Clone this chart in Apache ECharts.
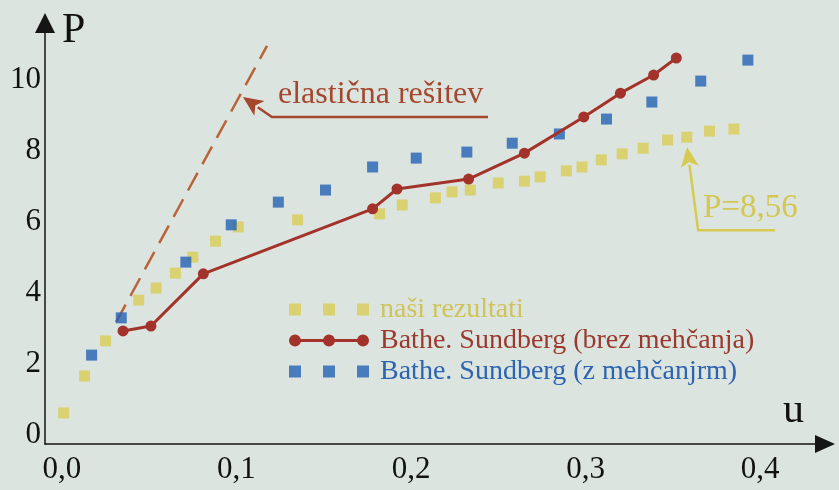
<!DOCTYPE html>
<html><head><meta charset="utf-8">
<script src="https://cdn.jsdelivr.net/npm/echarts@6/dist/echarts.min.js"></script>
<style>html,body{margin:0;padding:0;background:#dce4e0}#c{width:839px;height:490px}</style>
</head><body><div id="c"></div>
<script>
// ---- data ----
const uOurs = [0.001,0.013,0.025,0.044,0.054,0.065,0.075,0.088,0.101,0.135,0.182,0.195,0.214,0.2235,0.234,0.250,0.265,0.274,0.289,0.298,0.309,0.321,0.333,0.347,0.358,0.371,0.385];
const pOurs = [0.62,1.66,2.65,3.80,4.14,4.56,5.01,5.46,5.86,6.06,6.23,6.48,6.68,6.85,6.90,7.10,7.15,7.27,7.44,7.55,7.75,7.92,8.08,8.31,8.39,8.56,8.62];
const uBrez = [0.035,0.051,0.081,0.178,0.192,0.233,0.265,0.299,0.320,0.339,0.352];
const pBrez = [2.93,3.07,4.54,6.37,6.93,7.21,7.94,8.96,9.63,10.14,10.62];
const uZ = [0.017,0.034,0.071,0.097,0.124,0.151,0.178,0.203,0.232,0.258,0.285,0.312,0.338,0.366,0.393];
const pZ = [2.25,3.30,4.87,5.92,6.56,6.90,7.55,7.80,7.97,8.22,8.48,8.90,9.38,9.97,10.56];
const uElastic = [0.031,0.1175];
const pElastic = [3.18,10.96];
const xTicks = [0,0.1,0.2,0.3,0.4];
const yTicks = [0,2,4,6,8,10];
const names = ['naši rezultati','Bathe. Sundberg (brez mehčanja)','Bathe. Sundberg (z mehčanjrm)'];
const elasticLabel = 'elastična rešitev';
const limitLabel = 'P=8,56';
// annotation anchor points in data coords [u, P]
const elasticArrow = [[0.2441,8.96],[0.1203,8.96],[0.1037,9.52]];
const elasticTextAt = [0.1238,9.15];
const limitArrow = [[0.4086,5.77],[0.3645,5.77],[0.3582,8.11]];
const limitTextAt = [0.3673,5.92];

const FONT = 'Liberation Serif';
const cYellow = '#d9cc55', cRed = '#a3332a', cBlue = '#2461b4', cDash = '#b86438';
const zip = (a,b)=>a.map((v,i)=>[v,b[i]]);
const chart = echarts.init(document.getElementById('c'), null, {renderer:'canvas'});
const sq = 'path://M0,0H12V12H0Z M34,0H46V12H34Z M68,0H80V12H68Z';
const dots = 'path://M0,6A6,6 0 1,1 12,6A6,6 0 1,1 0,6Z M34,6A6,6 0 1,1 46,6A6,6 0 1,1 34,6Z M68,6A6,6 0 1,1 80,6A6,6 0 1,1 68,6Z M11,4.5H35V7.5H11Z M45,4.5H69V7.5H45Z';
chart.setOption({
  backgroundColor:'#dce4e0',
  animation:false,
  grid:{left:45,right:14,top:23,bottom:46},
  xAxis:{type:'value',min:-0.0097,max:0.4372,
    axisLine:{onZero:false,lineStyle:{color:'#151515',width:1.5},symbol:['none','triangle'],symbolSize:[18,20]},
    axisTick:{show:false},splitLine:{show:false},
    axisLabel:{customValues:xTicks,formatter:v=>v.toFixed(1).replace('.',','),fontFamily:FONT,fontSize:31,color:'#111',margin:10}},
  yAxis:{type:'value',min:-0.254,max:11.606,
    axisLine:{onZero:false,lineStyle:{color:'#151515',width:1.5},symbol:['none','triangle'],symbolSize:[20,20]},
    axisTick:{show:false},splitLine:{show:false},
    axisLabel:{customValues:yTicks,fontFamily:FONT,fontSize:31,color:'#111',margin:4}},
  legend:{orient:'vertical',left:289,top:295,padding:0,itemWidth:80,itemHeight:12,itemGap:2,
    textStyle:{fontFamily:FONT,fontSize:28,lineHeight:29,padding:[0,0,0,6]},
    data:[{name:names[0],icon:sq,textStyle:{color:'#cfc35a'}},
          {name:names[1],icon:dots,textStyle:{color:'#9a3a2e'}},
          {name:names[2],icon:sq,textStyle:{color:'#2c64b0'}}]},
  series:[
    {name:'elastic',type:'line',data:zip(uElastic,pElastic),showSymbol:false,z:1,
      lineStyle:{color:cDash,width:2.5,type:[20,10]}},
    {name:names[0],type:'scatter',data:zip(uOurs,pOurs),symbol:'rect',symbolSize:11,itemStyle:{color:cYellow},z:2},
    {name:names[2],type:'scatter',data:zip(uZ,pZ),symbol:'rect',symbolSize:11,itemStyle:{color:cBlue},z:2},
    {name:names[1],type:'line',data:zip(uBrez,pBrez),symbol:'circle',symbolSize:11,z:3,
      itemStyle:{color:cRed},lineStyle:{color:cRed,width:3}}
  ]
});

function px(p){return chart.convertToPixel({gridIndex:0},p);}
function arrowItems(pts,color,lw){
  const P = pts.map(px);
  const tip = P[P.length-1], prev = P[P.length-2];
  const dx = tip[0]-prev[0], dy = tip[1]-prev[1], L = Math.hypot(dx,dy);
  const ux = dx/L, uy = dy/L, len = 20, hw = 9;
  const bx = tip[0]-ux*len, by = tip[1]-uy*len;
  const line = P.slice(0,-1).concat([[bx+ux*2,by+uy*2]]);
  return [
    {type:'polyline',shape:{points:line},style:{stroke:color,lineWidth:lw,fill:null},z:10},
    {type:'polygon',shape:{points:[tip,[bx-uy*hw,by+ux*hw],[bx+ux*5,by+uy*5],[bx+uy*hw,by-ux*hw]]},style:{fill:color},z:10}
  ];
}
const et = px(elasticTextAt), lt = px(limitTextAt);
chart.setOption({graphic:[
  {type:'text',left:62,top:10,style:{text:'P',font:'42px "Liberation Serif"',fill:'#111'}},
  {type:'text',left:783,top:390,style:{text:'u',font:'42px "Liberation Serif"',fill:'#111'}},
  ...arrowItems(elasticArrow,'#a4472c',2.5),
  {type:'text',x:et[0],y:et[1],style:{text:elasticLabel,font:'32px "Liberation Serif"',fill:'#a4472c',textVerticalAlign:'bottom'},z:10},
  ...arrowItems(limitArrow,'#d6ca52',2.5),
  {type:'text',x:lt[0],y:lt[1],style:{text:limitLabel,font:'33px "Liberation Serif"',fill:'#d3c752',textVerticalAlign:'bottom'},z:10}
]});
</script></body></html>
